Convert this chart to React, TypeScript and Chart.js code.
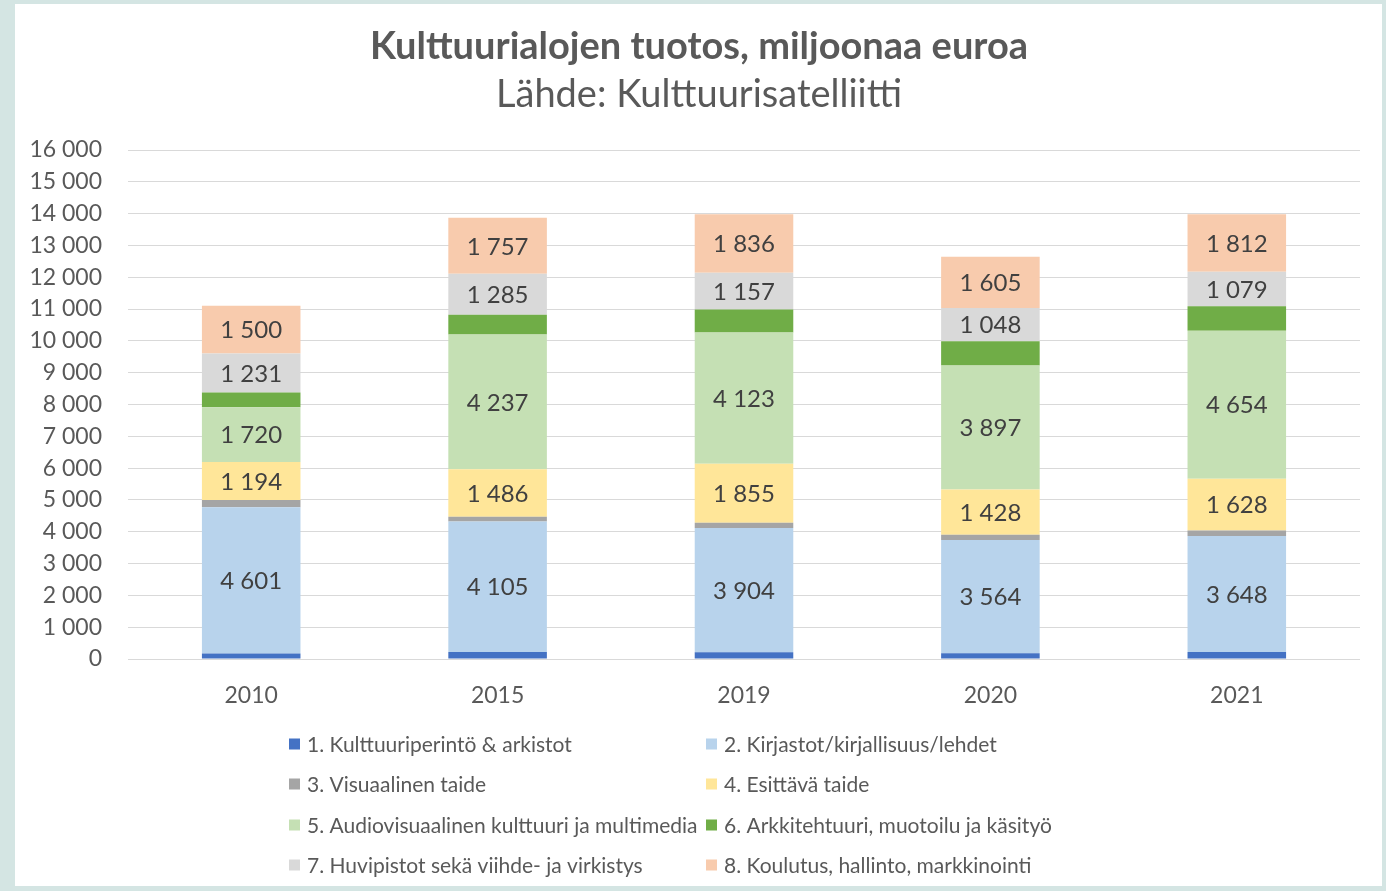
import React, { useEffect, useRef } from "react";
import { Chart, registerables } from "chart.js";

Chart.register(...registerables);

const categories = ["2010", "2015", "2019", "2020", "2021"];
const seriesLabels = [
  "1. Kulttuuriperintö & arkistot",
  "2. Kirjastot/kirjallisuus/lehdet",
  "3. Visuaalinen taide",
  "4. Esittävä taide",
  "5. Audiovisuaalinen kulttuuri ja multimedia",
  "6. Arkkitehtuuri, muotoilu ja käsityö",
  "7. Huvipistot sekä viihde- ja virkistys",
  "8. Koulutus, hallinto, markkinointi",
];
const s1Heritage = [170, 220, 210, 180, 220];
const s2Libraries = [4601, 4105, 3904, 3564, 3648];
const s3Visual = [230, 150, 170, 160, 170];
const s4Performing = [1194, 1486, 1855, 1428, 1628];
const s5Audiovisual = [1720, 4237, 4123, 3897, 4654];
const s6Architecture = [460, 627, 725, 760, 770];
const s7Entertainment = [1231, 1285, 1157, 1048, 1079];
const s8Education = [1500, 1757, 1836, 1605, 1812];
const seriesValues = [
  s1Heritage,
  s2Libraries,
  s3Visual,
  s4Performing,
  s5Audiovisual,
  s6Architecture,
  s7Entertainment,
  s8Education,
];
const labelledSeries = [false, true, false, true, true, false, true, true];
const colors = [
  "#4472C4",
  "#B8D3EC",
  "#A5A5A5",
  "#FFE699",
  "#C5E0B4",
  "#70AD47",
  "#D9D9D9",
  "#F8CBAD",
];
const yMax = 16000;
const yStep = 1000;
const titleText = "Kulttuurialojen tuotos, miljoonaa euroa";
const subtitleText = "Lähde: Kulttuurisatelliitti";

const FONT = "Lato, 'Open Sans', sans-serif";
const TEXT = "#595959";

const fmt = (n: number) =>
  String(Math.round(n)).replace(/\B(?=(\d{3})+(?!\d))/g, " ");

const headerPlugin = {
  id: "header",
  afterDraw(chart: any) {
    const ctx = chart.ctx;
    const cx = 684;
    ctx.save();
    ctx.fillStyle = TEXT;
    ctx.textAlign = "center";
    ctx.textBaseline = "alphabetic";
    ctx.font = `bold 38px ${FONT}`;
    ctx.fillText(titleText, cx, 55);
    ctx.font = `38px ${FONT}`;
    ctx.fillText(subtitleText, cx, 103);
    ctx.restore();
  },
};

const dataLabelPlugin = {
  id: "dataLabels",
  afterDatasetsDraw(chart: any) {
    const ctx = chart.ctx;
    ctx.save();
    ctx.font = `24px ${FONT}`;
    ctx.fillStyle = "#404040";
    ctx.textAlign = "center";
    ctx.textBaseline = "middle";
    chart.data.datasets.forEach((ds: any, i: number) => {
      if (!labelledSeries[i]) return;
      const meta = chart.getDatasetMeta(i);
      meta.data.forEach((el: any, j: number) => {
        const v = ds.data[j];
        ctx.fillText(fmt(v), el.x, (el.y + el.base) / 2 + 1);
      });
    });
    ctx.restore();
  },
};

const gridLegendPlugin = {
  id: "gridLegend",
  afterDraw(chart: any) {
    const ctx = chart.ctx;
    const colX = [274, 691];
    const rowY = [740, 780, 821, 861];
    ctx.save();
    ctx.font = `21px ${FONT}`;
    ctx.textBaseline = "middle";
    ctx.textAlign = "left";
    chart.data.datasets.forEach((ds: any, i: number) => {
      const x = colX[i % 2];
      const y = rowY[Math.floor(i / 2)];
      ctx.fillStyle = ds.backgroundColor;
      ctx.fillRect(x, y - 5.5, 11, 11);
      ctx.fillStyle = TEXT;
      ctx.fillText(ds.label, x + 18, y + 1);
    });
    ctx.restore();
  },
};

export default function App() {
  const ref = useRef<HTMLCanvasElement | null>(null);

  useEffect(() => {
    if (!ref.current) return;
    const chart = new Chart(ref.current, {
      type: "bar",
      data: {
        labels: categories,
        datasets: seriesValues.map((vals, i) => ({
          label: seriesLabels[i],
          data: vals,
          backgroundColor: colors[i],
          borderWidth: 0,
          barPercentage: 0.4,
          categoryPercentage: 1,
        })),
      },
      options: {
        animation: false,
        responsive: false,
        devicePixelRatio: 1,
        layout: { padding: { top: 146, left: 0, right: 22, bottom: 167 } },
        plugins: {
          legend: { display: false },
          tooltip: { enabled: false },
          title: { display: false },
          subtitle: { display: false },
        },
        scales: {
          x: {
            stacked: true,
            grid: { display: false },
            border: { display: false },
            ticks: {
              color: TEXT,
              font: { family: FONT, size: 23 },
              padding: 15,
            },
            afterFit: (scale: any) => {
              scale.height = 60;
            },
          },
          y: {
            stacked: true,
            min: 0,
            max: yMax,
            grid: { color: "#D9D9D9", drawTicks: false, lineWidth: 1 },
            border: { display: false },
            ticks: {
              stepSize: yStep,
              color: TEXT,
              font: { family: FONT, size: 23 },
              padding: 26,
              callback: (v: any) => fmt(Number(v)),
            },
            afterFit: (scale: any) => {
              scale.width = 113;
            },
          },
        },
      },
      plugins: [headerPlugin, dataLabelPlugin, gridLegendPlugin],
    });
    return () => chart.destroy();
  }, []);

  return (
    <div
      style={{
        position: "fixed",
        left: 0,
        top: 0,
        width: 1386,
        height: 891,
        background: "#D4E5E3",
      }}
    >
      <div
        style={{
          position: "absolute",
          left: 15,
          top: 4,
          width: 1367,
          height: 882,
          background: "#FFFFFF",
        }}
      >
        <canvas ref={ref} width={1367} height={882} style={{ display: "block" }} />
      </div>
    </div>
  );
}
